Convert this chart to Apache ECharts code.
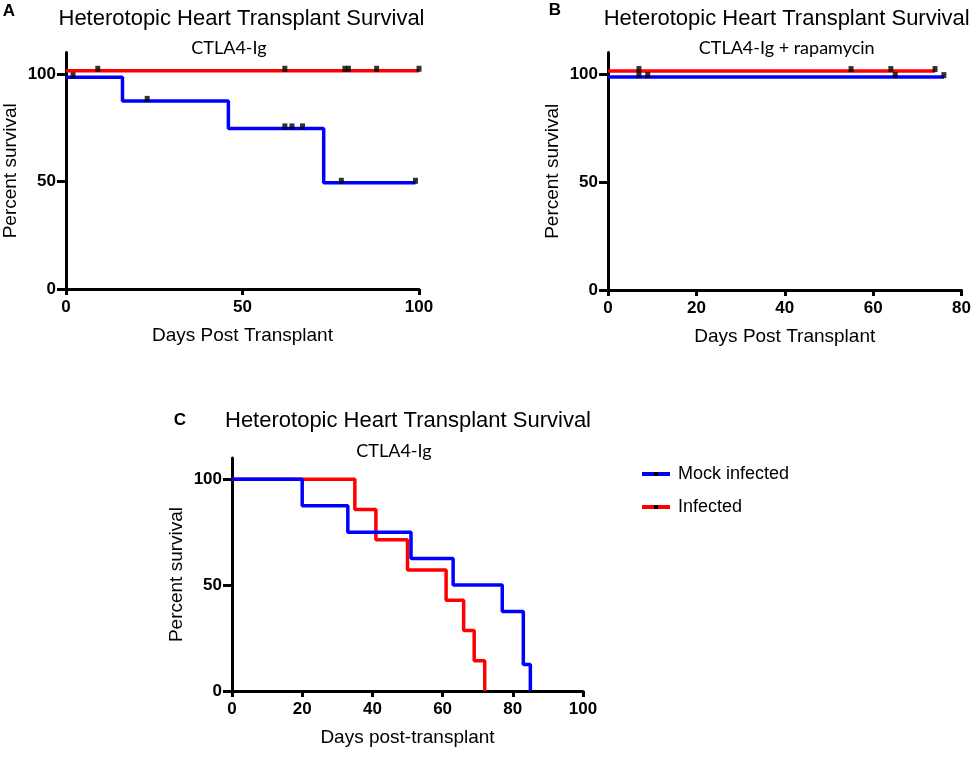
<!DOCTYPE html>
<html>
<head>
<meta charset="utf-8">
<script src="https://cdn.jsdelivr.net/npm/echarts@6/dist/echarts.min.js"></script>
<style>
  html, body { margin: 0; padding: 0; background: #fff; }
  #main { width: 974px; height: 759px; }
</style>
</head>
<body>
<div id="main"></div>
<script>
// A: CTLA4-Ig
var aBlueT = [0, 16, 46, 73, 99];
var aBlueS = [98.5, 87.5, 74.7, 49.4, 49.4];
var aRedT = [0, 100];
var aRedS = [101.5, 101.5];
var aBlueCensT = [2, 23, 62, 64, 67, 78, 99];
var aBlueCensS = [98.5, 87.5, 74.7, 74.7, 74.7, 49.4, 49.4];
var aRedCensT = [9, 62, 79, 80, 88, 100];
var aRedCensS = [101.5, 101.5, 101.5, 101.5, 101.5, 101.5];

// B: CTLA4-Ig + rapamycin
var bRedT = [0, 74];
var bRedS = [101.4, 101.4];
var bBlueT = [0, 76];
var bBlueS = [98.6, 98.6];
var bRedCensT = [7, 55, 64, 74];
var bRedCensS = [101.4, 101.4, 101.4, 101.4];
var bBlueCensT = [7, 9, 65, 76];
var bBlueCensS = [98.6, 98.6, 98.6, 98.6];

// C: mock vs infected
var cMockT = [0, 20, 33, 51, 63, 77, 83, 85];
var cMockS = [100, 87.5, 75, 62.5, 50, 37.5, 12.5, 0];
var cInfT = [0, 35, 41, 50, 61, 66, 69, 72];
var cInfS = [100, 85.7, 71.4, 57.1, 42.9, 28.6, 14.3, 0];

var yTicks = [0, 50, 100];

var BLUE = '#0000ff', RED = '#ff0000';
var FONT = 'Liberation Sans, Arial, sans-serif';

function pairs(t, s) {
    var out = [];
    for (var i = 0; i < t.length; i++) out.push([t[i], s[i]]);
    return out;
}

function xAx(idx, max, interval, name) {
    return {
        type: 'value', gridIndex: idx, min: 0, max: max, interval: interval,
        name: name, nameLocation: 'middle', nameGap: 37,
        nameTextStyle: { fontSize: 19, fontFamily: FONT, color: '#000' },
        axisLine: { lineStyle: { color: '#000', width: 3 } },
        axisTick: { length: 6, lineStyle: { color: '#000', width: 3 } },
        axisLabel: { margin: 10, fontSize: 17, fontWeight: 'bold', fontFamily: FONT, color: '#000' },
        splitLine: { show: false }
    };
}

function yAx(idx) {
    return {
        type: 'value', gridIndex: idx, min: 0, max: 110, interval: 50,
        name: 'Percent survival', nameLocation: 'middle', nameGap: 46,
        nameTextStyle: { fontSize: 19, fontFamily: FONT, color: '#000' },
        axisLine: { lineStyle: { color: '#000', width: 3 } },
        axisTick: { length: 9, customValues: yTicks, lineStyle: { color: '#000', width: 3 } },
        axisLabel: { margin: 10, customValues: yTicks, fontSize: 17, fontWeight: 'bold', fontFamily: FONT, color: '#000' },
        splitLine: { show: false }
    };
}

function kmLine(name, idx, t, s, color) {
    return {
        name: name, type: 'line', step: 'end', xAxisIndex: idx, yAxisIndex: idx,
        data: pairs(t, s), showSymbol: false, symbol: 'rect',
        itemStyle: { color: '#000' },
        lineStyle: { color: color, width: 3.5 },
        silent: true
    };
}

function censor(idx, t, s) {
    return {
        type: 'scatter', xAxisIndex: idx, yAxisIndex: idx, data: pairs(t, s),
        symbol: 'rect', symbolSize: [5, 6], symbolOffset: [0, -2],
        itemStyle: { color: '#000' }, z: 5, silent: true
    };
}

function txt(x, y, text, size, family, weight) {
    return {
        type: 'text', x: x, y: y,
        style: { text: text, fontSize: size, fontFamily: family, fontWeight: weight || 'normal',
                 fill: '#000', align: 'center', verticalAlign: 'middle' }
    };
}

var chart = echarts.init(document.getElementById('main'));
chart.setOption({
    animation: false,
    backgroundColor: '#fff',
    grid: [
        { left: 63, top: 52.5, width: 356, height: 236.5 },
        { left: 608, top: 52.5, width: 357, height: 237.5 },
        { left: 232, top: 458, width: 351, height: 233 }
    ],
    xAxis: [
        xAx(0, 100, 50, 'Days Post Transplant'),
        xAx(1, 80, 20, 'Days Post Transplant'),
        xAx(2, 100, 20, 'Days post-transplant')
    ],
    yAxis: [yAx(0), yAx(1), yAx(2)],
    legend: {
        data: ['Mock infected', 'Infected'],
        orient: 'vertical', left: 635, top: 459,
        itemWidth: 28, itemHeight: 5, itemGap: 13,
        selectedMode: false,
        lineStyle: { width: 4 },
        textStyle: { fontSize: 18, fontFamily: FONT, color: '#000', lineHeight: 20, padding: [0, 0, 0, 3] }
    },
    graphic: [
        txt(9, 11, 'A', 17, FONT, 'bold'),
        txt(241.5, 18.5, 'Heterotopic Heart Transplant Survival', 22, FONT),
        txt(229, 48, 'CTLA4-Ig', 18, 'Lato, sans-serif'),
        txt(555, 10, 'B', 17, FONT, 'bold'),
        txt(786.7, 18.5, 'Heterotopic Heart Transplant Survival', 22, FONT),
        txt(786.7, 48, 'CTLA4-Ig + rapamycin', 18, 'Lato, sans-serif'),
        txt(180, 420, 'C', 17, FONT, 'bold'),
        txt(408, 420.5, 'Heterotopic Heart Transplant Survival', 22, FONT),
        txt(394, 451, 'CTLA4-Ig', 18, 'Lato, sans-serif')
    ],
    series: [
        kmLine('a-blue', 0, aBlueT, aBlueS, BLUE),
        kmLine('a-red', 0, aRedT, aRedS, RED),
        censor(0, aBlueCensT, aBlueCensS),
        censor(0, aRedCensT, aRedCensS),
        kmLine('b-blue', 1, bBlueT, bBlueS, BLUE),
        kmLine('b-red', 1, bRedT, bRedS, RED),
        censor(1, bBlueCensT, bBlueCensS),
        censor(1, bRedCensT, bRedCensS),
        kmLine('Infected', 2, cInfT, cInfS, RED),
        kmLine('Mock infected', 2, cMockT, cMockS, BLUE)
    ]
});
</script>
</body>
</html>
